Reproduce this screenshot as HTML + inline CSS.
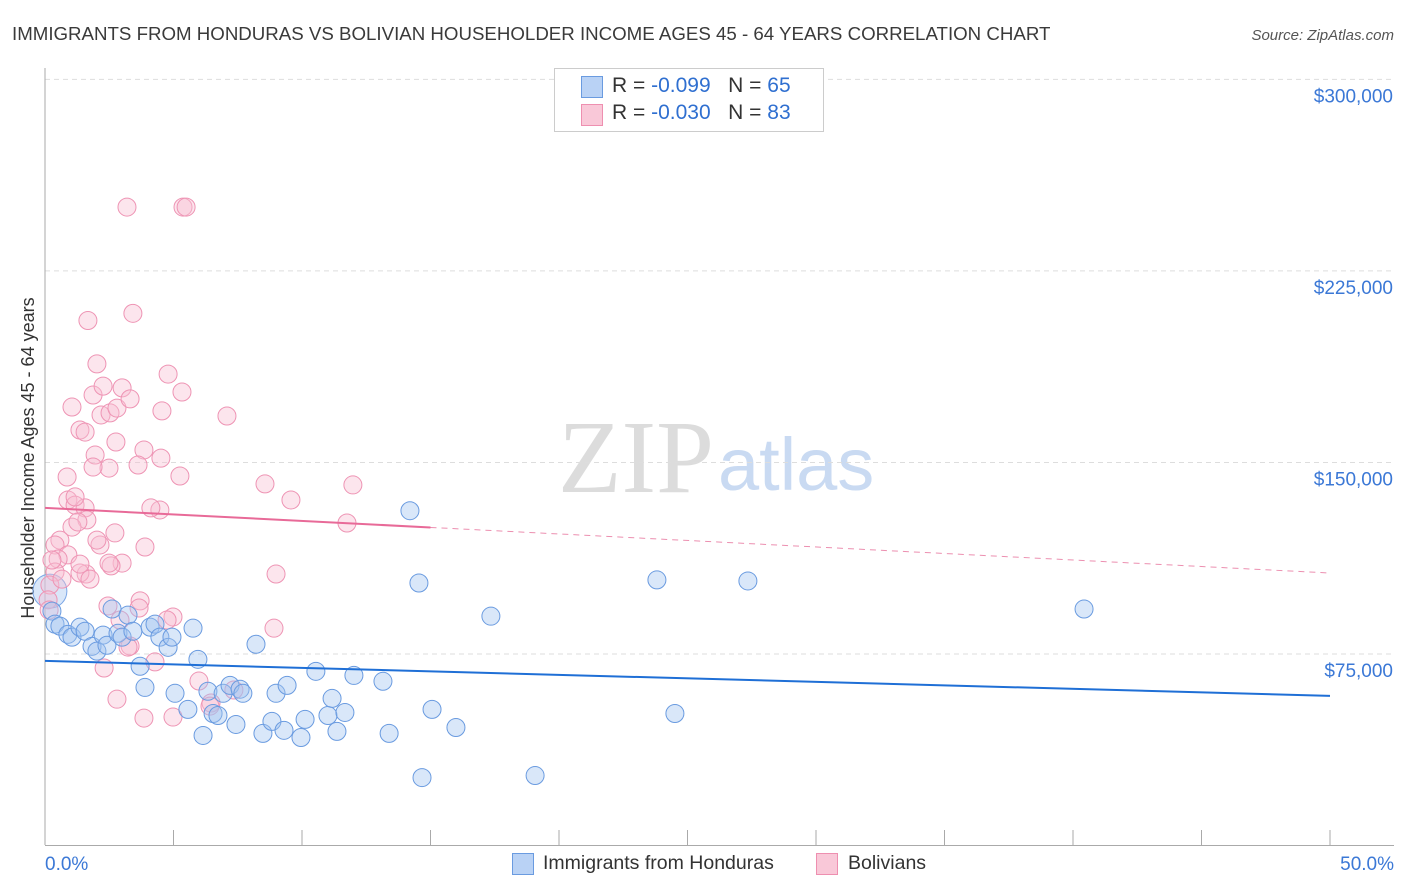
<!DOCTYPE html>
<html><head><meta charset="utf-8"><style>
body{margin:0;background:#fff;font-family:"Liberation Sans",sans-serif}
#wrap{position:relative;width:1406px;height:892px;overflow:hidden}
</style></head><body>
<div id="wrap">
<svg id="svg" width="1406" height="892" xmlns="http://www.w3.org/2000/svg">
<text x="12" y="40" font-size="18.7" fill="#3a3a3a">IMMIGRANTS FROM HONDURAS VS BOLIVIAN HOUSEHOLDER INCOME AGES 45 - 64 YEARS CORRELATION CHART</text>
<text x="1394" y="40" font-size="15" fill="#555" font-style="italic" text-anchor="end">Source: ZipAtlas.com</text>
<text x="714" y="492" font-size="104" fill="#dcdcdc" text-anchor="end" font-family="Liberation Serif">ZIP</text>
<text x="718" y="490" font-size="74" fill="#c9daf2">atlas</text>
<text transform="translate(34,458) rotate(-90)" font-size="18" fill="#333" text-anchor="middle">Householder Income Ages 45 - 64 years</text>
<g id="grid"></g><g id="marks"></g>
</svg>
<div style="position:absolute;left:554px;top:68px;width:268px;height:62px;border:1px solid #ccc;background:#fff;font-size:21px;color:#333">
 <div style="position:absolute;left:26px;top:7px;width:20px;height:20px;background:#b9d2f5;border:1px solid #6a9be0"></div>
 <div style="position:absolute;left:57px;top:5px">R = <span style="color:#2f6fd0">-0.099</span> &nbsp;&nbsp;N = <span style="color:#2f6fd0">65</span></div>
 <div style="position:absolute;left:26px;top:35px;width:20px;height:20px;background:#f9c8d8;border:1px solid #ee8fb0"></div>
 <div style="position:absolute;left:57px;top:32px">R = <span style="color:#2f6fd0">-0.030</span> &nbsp;&nbsp;N = <span style="color:#2f6fd0">83</span></div>
</div>
<div style="position:absolute;left:512px;top:853px;width:20px;height:20px;background:#b9d2f5;border:1px solid #6a9be0"></div>
<div style="position:absolute;left:543px;top:852px;font-size:19.5px;color:#333">Immigrants from Honduras</div>
<div style="position:absolute;left:816px;top:853px;width:20px;height:20px;background:#f9c8d8;border:1px solid #ee8fb0"></div>
<div style="position:absolute;left:848px;top:852px;font-size:19.5px;color:#333">Bolivians</div>
</div>
<script>
const blueX=[0.27,0.39,0.58,0.89,1.05,1.36,1.56,1.83,2.02,2.26,2.41,2.61,2.84,3.0,3.23,3.42,3.7,3.89,4.09,4.28,4.47,4.79,4.94,5.06,5.56,5.76,5.95,6.15,6.34,6.54,6.73,6.93,7.2,7.43,7.59,7.7,8.21,8.48,8.83,8.99,9.3,9.42,9.96,10.12,10.54,11.01,11.17,11.36,11.67,12.02,13.15,13.39,14.2,14.55,14.67,15.06,15.99,17.35,19.07,23.81,24.51,27.35,40.43];
const blueY=[91.8,86.7,85.9,82.7,81.6,85.5,83.9,78,76.1,82.4,78.4,92.6,83.1,81.6,90.2,83.9,70.2,61.9,85.5,86.7,81.6,77.6,81.6,59.6,53.3,85.1,72.9,43.1,60.4,51.7,50.9,59.6,62.7,47.4,61.2,59.6,78.8,43.9,48.6,59.6,45.1,62.7,42.3,49.4,68.2,50.9,57.6,44.7,52.1,66.6,64.3,43.9,131.1,102.8,26.6,53.3,46.2,89.8,27.4,104,51.7,103.6,92.6];
const pinkX=[3.19,5.37,5.49,1.67,3.42,2.02,1.05,1.36,1.56,1.87,2.18,2.53,2.80,4.79,2.26,3.0,3.31,5.33,7.08,4.55,3.85,4.51,1.95,2.76,2.49,0.86,1.87,3.62,5.25,8.56,11.98,9.57,0.89,1.17,1.56,1.63,1.05,0.58,0.39,0.89,2.14,2.72,2.02,3.0,2.57,3.89,4.47,4.12,11.75,1.60,1.36,0.51,0.39,0.19,0.12,2.49,8.99,0.16,2.45,3.70,4.98,4.75,3.66,2.92,3.31,2.30,2.80,3.85,4.98,4.28,5.99,6.46,7.35,8.91,1.36,1.75,0.66,1.17,1.28,0.27,6.42,3.23];
const pinkY=[250,250,250,205.6,208.4,188.6,171.7,162.7,161.9,176.4,168.6,169.4,171.3,184.6,179.9,179.2,174.9,177.6,168.2,170.2,154.9,151.7,152.9,158.0,147.8,144.3,148.2,149.0,144.7,141.6,141.2,135.3,135.3,133.3,132.2,127.5,124.7,119.6,117.7,113.8,117.7,122.4,119.6,110.6,109.5,116.9,131.4,132.2,126.3,106.3,106.7,112.2,107.1,102.0,96.2,110.6,106.3,92.2,93.8,95.8,89.5,88.3,93.0,88.3,78.1,69.5,57.3,49.9,50.3,71.9,64.4,55.8,60.9,85.1,110.2,104.3,104.3,136.5,126.7,111.8,54.6,77.7];
const yTicks=[75,150,225,300];
const yTickLabels=["$75,000","$150,000","$225,000","$300,000"];
const xTicks=[0,5,10,15,20,25,30,35,40,45,50];
const blueTrend=[72.3,58.6];
const pinkTrend=[132.2,106.7];
const pinkSolidEnd=15;
const bigPoint=[0.19,99.6];

const X=v=>45+v*25.7, Y=v=>845.5-v/0.3916;
const NS="http://www.w3.org/2000/svg";
const grid=document.getElementById('grid'), marks=document.getElementById('marks');
function mk(tag,attrs,parent){const e=document.createElementNS(NS,tag);for(const k in attrs)e.setAttribute(k,attrs[k]);parent.appendChild(e);return e;}
yTicks.forEach((t,i)=>{
 const g=mk('line',{x1:45,x2:1394,y1:Y(t),y2:Y(t),stroke:'#ddd','stroke-dasharray':'5,4'},grid);
 
 
 const tx=mk('text',{x:1393,y:Y(t)+23,'font-size':19,fill:'#3b78d6','text-anchor':'end'},grid);
 tx.textContent=yTickLabels[i];
 
 
});
const yAxisLine=mk('line',{x1:45,x2:45,y1:68,y2:845,stroke:'#aaa'},grid);


const xAxisLine=mk('line',{x1:45,x2:1394,y1:845.5,y2:845.5,stroke:'#aaa'},grid);


xTicks.forEach(t=>{const l=mk('line',{x1:X(t),x2:X(t),y1:830,y2:845,stroke:'#aaa'},grid);
 
 });
const xl=mk('text',{x:45,y:870,'font-size':19,fill:'#3b78d6'},grid);xl.textContent='0.0%';


const xr=mk('text',{x:1394,y:870,'font-size':19,fill:'#3b78d6','text-anchor':'end'},grid);xr.textContent='50.0%';



const bp=mk('circle',{cx:X(bigPoint[0]),cy:Y(bigPoint[1]),r:17,fill:'rgba(160,195,240,0.4)',stroke:'#7aa6e6','stroke-width':1},marks);


pinkX.forEach((x,i)=>{const c=mk('circle',{cx:X(x),cy:Y(pinkY[i]),r:9,fill:'rgba(248,190,210,0.4)',stroke:'#ee94b4','stroke-width':1},marks);
 
 });
blueX.forEach((x,i)=>{const c=mk('circle',{cx:X(x),cy:Y(blueY[i]),r:9,fill:'rgba(160,195,240,0.4)',stroke:'#6a9be0','stroke-width':1},marks);
 
 });
const pv=x=>pinkTrend[0]+(pinkTrend[1]-pinkTrend[0])*x/50;
const l1=mk('line',{x1:X(0),y1:Y(pinkTrend[0]),x2:X(pinkSolidEnd),y2:Y(pv(pinkSolidEnd)),stroke:'#e86a98','stroke-width':2},marks);


const l2=mk('line',{x1:X(pinkSolidEnd),y1:Y(pv(pinkSolidEnd)),x2:X(50),y2:Y(pinkTrend[1]),stroke:'#ec8fb0','stroke-width':1,'stroke-dasharray':'6,5'},marks);


const l3=mk('line',{x1:X(0),y1:Y(blueTrend[0]),x2:X(50),y2:Y(blueTrend[1]),stroke:'#1f6fd6','stroke-width':2},marks);


</script>
</body></html>
